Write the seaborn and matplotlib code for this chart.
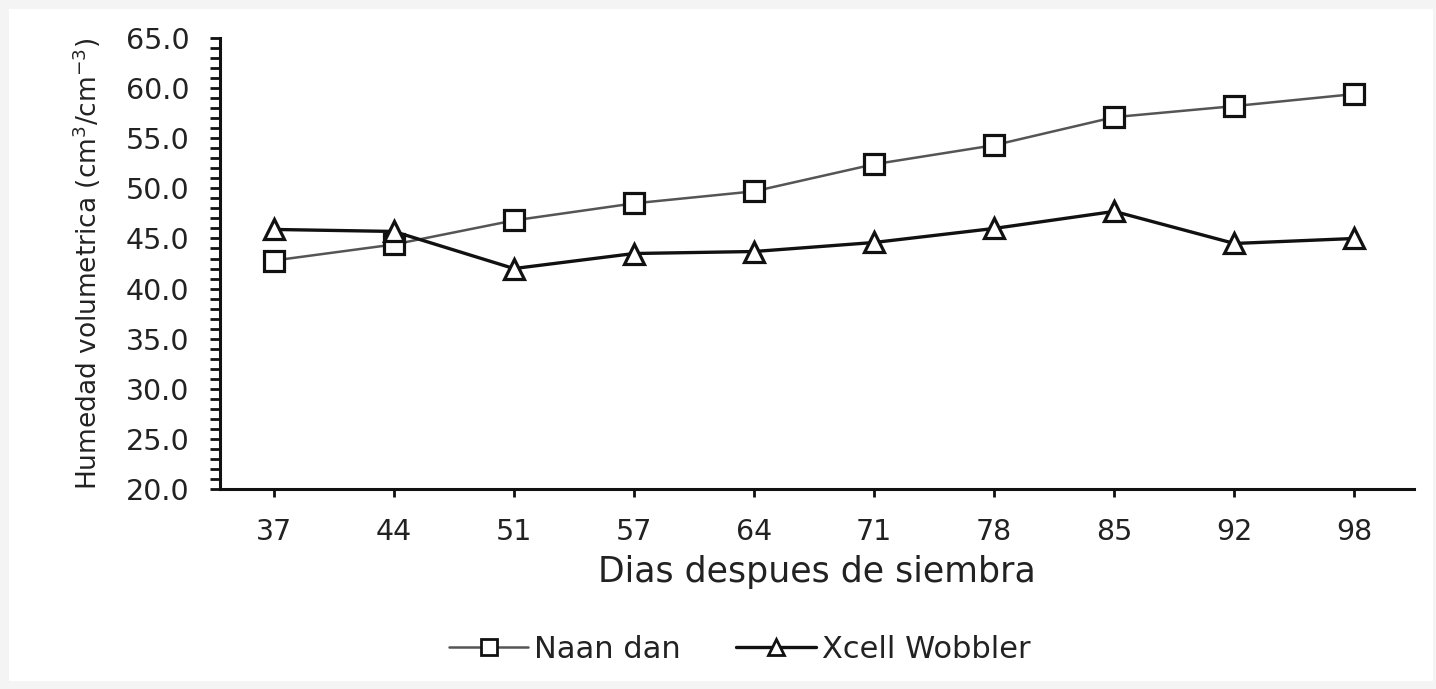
import matplotlib
matplotlib.use("Agg")
import matplotlib.pyplot as plt
from matplotlib.lines import Line2D
from matplotlib.patches import Rectangle
from matplotlib.ticker import MultipleLocator, FormatStrFormatter
import seaborn as sns
import pandas as pd
import numpy as np

days = ["37", "44", "51", "57", "64", "71", "78", "85", "92", "98"]
naan_dan = [42.8, 44.4, 46.8, 48.5, 49.7, 52.4, 54.3, 57.1, 58.2, 59.4]
xcell_wobbler = [45.9, 45.7, 42.0, 43.5, 43.7, 44.6, 46.0, 47.7, 44.5, 45.0]
series_names = ["Naan dan", "Xcell Wobbler"]

pos = np.arange(len(days))
df = pd.concat([
    pd.DataFrame({"pos": pos, "val": naan_dan, "serie": series_names[0]}),
    pd.DataFrame({"pos": pos, "val": xcell_wobbler, "serie": series_names[1]}),
], ignore_index=True)

sns.set_theme(style="white")
plt.rcParams["font.family"] = ["DejaVu Sans"]
plt.rcParams["mathtext.fontset"] = "dejavusans"

fig = plt.figure(figsize=(14.36, 6.89), dpi=100)
fig.patch.set_facecolor("#f4f4f4")
fig.patches.append(Rectangle((0.006, 0.012), 0.992, 0.975, transform=fig.transFigure,
                             facecolor="white", edgecolor="none", zorder=-10))
ax = fig.add_axes([0.153, 0.290, 0.832, 0.655])
ax.set_facecolor("white")

colors = {"Naan dan": "#555555", "Xcell Wobbler": "#111111"}
sns.lineplot(data=df, x="pos", y="val", hue="serie", style="serie",
             markers={"Naan dan": "s", "Xcell Wobbler": "^"}, dashes=False,
             palette=colors, ax=ax, legend=False, markersize=15,
             markerfacecolor="white", markeredgecolor="#111111", markeredgewidth=2.3)
for ln, lw in zip(ax.lines, [1.8, 2.4]):
    ln.set_linewidth(lw)

ax.set_xlim(-0.45, 9.5)
ax.set_ylim(20, 65)
ax.set_xticks(pos)
ax.set_xticklabels(days)
ax.yaxis.set_major_locator(MultipleLocator(5))
ax.yaxis.set_minor_locator(MultipleLocator(1))
ax.yaxis.set_major_formatter(FormatStrFormatter("%.1f"))

for s in ["top", "right"]:
    ax.spines[s].set_visible(False)
for s in ["left", "bottom"]:
    ax.spines[s].set_color("#111111")
    ax.spines[s].set_linewidth(2.2)

ax.tick_params(axis="y", which="both", direction="out", left=True, length=7, width=2,
               color="#111111", labelsize=20.5, pad=15, labelcolor="#222222")
ax.tick_params(axis="x", which="major", direction="out", bottom=True, length=6, width=2,
               color="#111111", labelsize=20.5, pad=15, labelcolor="#222222")

ax.set_xlabel("Dias despues de siembra", fontsize=25, color="#222222", labelpad=6)
ax.set_ylabel(r"Humedad volumetrica (cm$^{3}$/cm$^{-3}$)", fontsize=19,
              color="#222222", labelpad=16)

handles = [
    Line2D([], [], color=colors["Naan dan"], lw=1.8, marker="s", markersize=11,
           markerfacecolor="white", markeredgecolor="#111111", markeredgewidth=2),
    Line2D([], [], color=colors["Xcell Wobbler"], lw=2.4, marker="^", markersize=11,
           markerfacecolor="white", markeredgecolor="#111111", markeredgewidth=2),
]
fig.legend(handles, series_names, loc="center", bbox_to_anchor=(0.515, 0.058),
           ncol=2, frameon=False, fontsize=22, handlelength=2.6, handletextpad=0.2,
           columnspacing=1.8, labelcolor="#222222")

fig.savefig("out.png", dpi=100, facecolor=fig.get_facecolor())
